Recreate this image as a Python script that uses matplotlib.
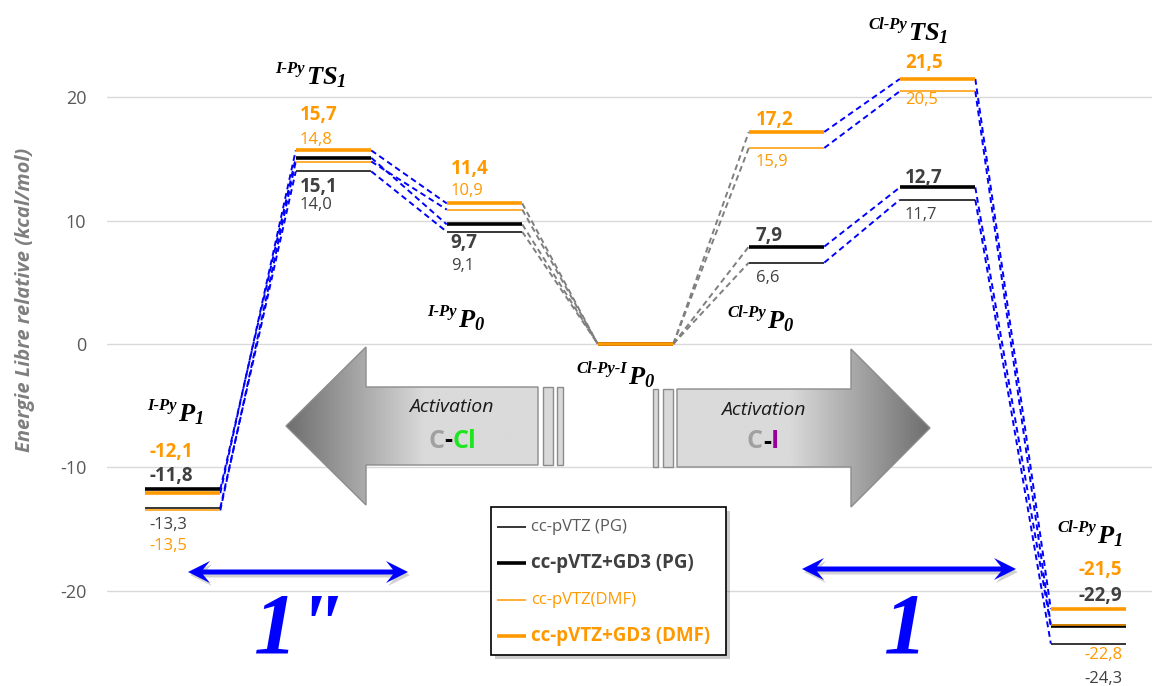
import numpy as np
import matplotlib.pyplot as plt
from matplotlib.patches import Polygon, Rectangle
from matplotlib.colors import LinearSegmentedColormap
from matplotlib.offsetbox import TextArea, HPacker, AnnotationBbox

plt.rcParams['font.family'] = ['Open Sans', 'DejaVu Sans']
plt.rcParams['axes.unicode_minus'] = False
plt.rcParams['mathtext.fontset'] = 'custom'
plt.rcParams['mathtext.rm'] = 'Liberation Serif:italic:bold'
plt.rcParams['mathtext.it'] = 'Liberation Serif:italic:bold'
plt.rcParams['mathtext.bf'] = 'Liberation Serif:italic:bold'

# data: relative free energies (kcal/mol) for each state
states = ['I-Py P1', 'I-Py TS1', 'I-Py P0', 'Cl-Py-I P0', 'Cl-Py P0', 'Cl-Py TS1', 'Cl-Py P1']
state_prefix = ['I-Py', 'I-Py', 'I-Py', 'Cl-Py-I', 'Cl-Py', 'Cl-Py', 'Cl-Py']
state_main = ['P_1', 'TS_1', 'P_0', 'P_0', 'P_0', 'TS_1', 'P_1']

pvtz_pg = [-13.3, 14.0, 9.1, 0.0, 6.6, 11.7, -24.3]
gd3_pg = [-11.8, 15.1, 9.7, 0.0, 7.9, 12.7, -22.9]
pvtz_dmf = [-13.5, 14.8, 10.9, 0.0, 15.9, 20.5, -22.8]
gd3_dmf = [-12.1, 15.7, 11.4, 0.0, 17.2, 21.5, -21.5]

series_names = ['cc-pVTZ (PG)', 'cc-pVTZ+GD3 (PG)', 'cc-pVTZ(DMF)', 'cc-pVTZ+GD3 (DMF)']
link_colors = ['#0000FF', '#0000FF', '#7f7f7f', '#7f7f7f', '#0000FF', '#0000FF']
y_ticks = [-20, -10, 0, 10, 20]

ORANGE = '#FF9900'
series = [pvtz_pg, gd3_pg, pvtz_dmf, gd3_dmf]
line_style = [('#000000', 1.1), ('#000000', 2.6), (ORANGE, 1.1), (ORANGE, 2.6)]
lab_color = ['#404040', '#404040', ORANGE, ORANGE]
lab_weight = ['normal', 'bold', 'normal', 'bold']
lab_size = [12, 13.5, 12, 13.5]
# label offsets in pixels (positive = below the level line)
lab_dy = [
    [17, 34, 34, None, 15, 15, 35],
    [-13, 29, 19, None, -11, -9, -30],
    [36, -22, -19, None, 14, 9, 30],
    [-41, -35, -34, None, -12, -16, -39],
]
lab_dx = [5, 4, 4, 0, 7, 5, -4]


def fmt(v):
    return ('%.1f' % v).replace('.', ',')


fig = plt.figure(figsize=(11.52, 6.86), dpi=100)
ax = fig.add_axes([107 / 1152, 0, 1 - 107 / 1152, 1])
ax.set_xlim(-0.5, 13.34)
ax.set_ylim(-27.74, 27.9)
for s in ax.spines.values():
    s.set_visible(False)
ax.set_xticks([])
ax.set_yticks(y_ticks)
ax.tick_params(axis='y', length=0, pad=15, labelsize=13, labelcolor='#595959')
ax.yaxis.grid(True, color='#d9d9d9', lw=1)
ax.set_axisbelow(True)

# dashed connectors
for vals in series:
    for i in range(len(states) - 1):
        ax.plot([2 * i + 1, 2 * i + 2], [vals[i], vals[i + 1]], color=link_colors[i],
                lw=1.4, ls=(0, (3, 2)), zorder=2)

# energy levels
for vals, (c, lw) in zip(series, line_style):
    for i, v in enumerate(vals):
        ax.plot([2 * i, 2 * i + 1], [v, v], color=c, lw=lw, solid_capstyle='butt', zorder=3)

# value labels
for k, vals in enumerate(series):
    for i, v in enumerate(vals):
        dy = lab_dy[k][i]
        if dy is None:
            continue
        if i == len(states) - 1:
            x, ha = 2 * i + 1, 'right'
        else:
            x, ha = 2 * i, 'left'
        ax.annotate(fmt(v), xy=(x, v), xytext=(lab_dx[i], -dy), textcoords='offset pixels',
                    ha=ha, va='center', color=lab_color[k], fontweight=lab_weight[k],
                    fontsize=lab_size[k], zorder=4)

# overlay in pixel coordinates for decorations
ov = fig.add_axes([0, 0, 1, 1])
ov.axis('off')

ov.text(25, 300, 'Energie Libre relative (kcal/mol)', rotation=90, ha='center', va='center',
        fontsize=14.5, fontweight='bold', fontstyle='italic', color='#7f7f7f')

# state labels
label_pos = [(178, 421), (306, 84), (458, 327), (628, 384), (767, 328), (908, 40), (1097, 543)]
for pre, main, (x, y) in zip(state_prefix, state_main, label_pos):
    ov.text(x, y, '$%s$' % main, ha='left', va='baseline', fontsize=19, color='black')
    ov.text(x - 1, y - 11, pre, ha='right', va='baseline', fontsize=12, color='black',
            family='Liberation Serif', fontweight='bold', fontstyle='italic')

# gradient block arrows
cmap = LinearSegmentedColormap.from_list('arrow', ['#6e6e6e', '#dadada'])


def grad_arrow(pts, x_dark, x_light):
    poly = Polygon(pts, closed=True, fc='none', ec='#8c8c8c', lw=1, zorder=3)
    ov.add_patch(poly)
    xs = [p[0] for p in pts]
    ys = [p[1] for p in pts]
    xx = np.linspace(min(xs), max(xs), 400)
    t = np.clip((xx - x_dark) / (x_light - x_dark), 0, 1)
    im = ov.imshow(t[None, :], extent=[min(xs), max(xs), max(ys), min(ys)], cmap=cmap,
                   vmin=0, vmax=1, aspect='auto', zorder=2, interpolation='bilinear')
    im.set_clip_path(poly)


grad_arrow([(286, 426), (366, 347), (366, 387), (538, 387), (538, 465), (366, 465), (366, 505)],
           286, 425)
grad_arrow([(677, 389), (851, 389), (851, 349), (930, 428), (851, 507), (851, 467), (677, 467)],
           930, 790)
for x0, x1, y0, y1 in [(543, 553, 387, 465), (557, 563, 387, 465),
                       (653, 658, 389, 467), (663, 673, 389, 467)]:
    ov.add_patch(Rectangle((x0, y0), x1 - x0, y1 - y0, fc='#d9d9d9', ec='#8c8c8c', lw=1, zorder=3))

ov.text(451, 407, 'Activation', ha='center', va='center', fontsize=14, fontstyle='italic',
        color='#1a1a1a', zorder=4)
ov.text(763, 410, 'Activation', ha='center', va='center', fontsize=14, fontstyle='italic',
        color='#1a1a1a', zorder=4)


def multi_text(xy, parts, size):
    boxes = [TextArea(t, textprops=dict(color=c, fontsize=size, fontweight='bold')) for t, c in parts]
    pack = HPacker(children=boxes, align='baseline', pad=0, sep=0)
    ab = AnnotationBbox(pack, xy, xycoords='data', frameon=False, box_alignment=(0.5, 0.5), zorder=4)
    ov.add_artist(ab)


multi_text((452, 441), [('C', '#a0a0a0'), ('-', '#000000'), ('Cl', '#1ee61e')], 18)
multi_text((763, 442), [('C', '#a0a0a0'), ('-', '#000000'), ('I', '#990099')], 18)


# blue double arrows
def double_arrow(x0, x1, y):
    pts = [(x0, y), (x0 + 22, y - 11), (x0 + 15, y - 2.5), (x1 - 15, y - 2.5), (x1 - 22, y - 11),
           (x1, y), (x1 - 22, y + 11), (x1 - 15, y + 2.5), (x0 + 15, y + 2.5), (x0 + 22, y + 11)]
    sh = [(px + 2, py + 3) for px, py in pts]
    ov.add_patch(Polygon(sh, closed=True, fc='#000000', alpha=0.18, ec='none', zorder=2))
    ov.add_patch(Polygon(pts, closed=True, fc='#0000FF', ec='none', zorder=3))


double_arrow(188, 408, 572)
double_arrow(802, 1016, 569)

for x, txt in [(299, '1"'), (906, '1')]:
    ov.text(x, 632, txt, ha='center', va='center', fontsize=62, color='#0000FF',
            family='Liberation Serif', fontweight='bold', fontstyle='italic')

# legend box
ov.add_patch(Rectangle((495, 511), 235, 148, fc='#000000', alpha=0.2, ec='none', zorder=4))
ov.add_patch(Rectangle((491, 507), 235, 148, fc='white', ec='black', lw=1.2, zorder=5))
leg_y = [527, 563, 600, 636]
leg_size = [12, 13.5, 12, 13.5]
for k, name in enumerate(series_names):
    c, lw = line_style[k]
    ov.plot([497, 526], [leg_y[k], leg_y[k]], color=c, lw=lw, solid_capstyle='butt', zorder=6)
    ov.text(531, leg_y[k], name, ha='left', va='center', fontsize=leg_size[k],
            fontweight=lab_weight[k], color=['#595959', '#404040', ORANGE, ORANGE][k], zorder=6)

ov.set_xlim(0, 1152)
ov.set_ylim(686, 0)

fig.savefig('out.png', dpi=100)
